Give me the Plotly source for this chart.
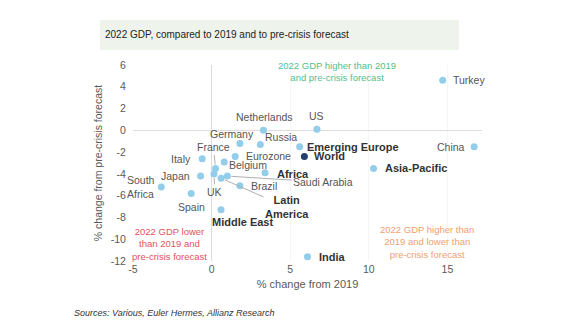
import plotly.graph_objects as go

countries = ["Turkey", "China", "US", "Netherlands", "Russia", "Germany", "Eurozone",
             "Belgium", "France", "Italy", "Japan", "South<br>Africa", "UK", "Spain",
             "Brazil", "Africa", "Saudi Arabia", "Latin<br>America", "Middle East",
             "Emerging Europe", "World", "Asia-Pacific", "India"]
vs_2019 = [14.7, 16.7, 6.7, 3.3, 3.1, 1.8, 1.5, 0.8, 0.25, -0.6, -0.7, -3.2, 0.15, -1.3,
           1.8, 3.4, 1.0, 0.6, 0.6, 5.6, 5.9, 10.3, 6.1]
vs_forecast = [4.6, -1.5, 0.1, 0.0, -1.3, -1.2, -2.4, -2.9, -3.5, -2.6, -4.2, -5.2, -4.0,
               -5.8, -5.1, -3.9, -4.2, -4.4, -7.3, -1.5, -2.4, -3.5, -11.6]
bold = ["Africa", "Latin<br>America", "Middle East", "Emerging Europe", "World",
        "Asia-Pacific", "India"]
x_ticks = [-5, 0, 5, 10, 15]
y_ticks = [6, 4, 2, 0, -2, -4, -6, -8, -10, -12]

# label placement: (xanchor, xshift, yshift) or ("arrow", ax, ay)
placement = {
    "Turkey": ("left", 8, 0), "China": ("right", -7, 0), "US": ("center", 0, 13),
    "Netherlands": ("center", 1, 13), "Russia": ("left", 3, 7),
    "Germany": ("center", -8, 9), "Eurozone": ("left", 9, 0), "Belgium": ("left", 3, -3),
    "France": ("arrow", -2, -21), "Italy": ("right", -9, 0), "Japan": ("right", -9, 0),
    "South<br>Africa": ("right", -4, 0), "UK": ("arrow", 1, 18), "Spain": ("center", 0, -14),
    "Brazil": ("left", 9, 0), "Africa": ("left", 10, -1),
    "Saudi Arabia": ("arrow", 96, 6), "Latin<br>America": ("arrow", 66, 29),
    "Middle East": ("center", 21, -12), "Emerging Europe": ("left", 5, 0),
    "World": ("left", 8, 0), "Asia-Pacific": ("left", 9, 0), "India": ("left", 9, 0),
}

colors = ["#24406e" if c == "World" else "#92cdea" for c in countries]

fig = go.Figure()
fig.add_trace(go.Scatter(x=vs_2019, y=vs_forecast, mode="markers",
                         marker=dict(size=7, color=colors), hoverinfo="text",
                         text=countries, showlegend=False, cliponaxis=False))

FONT = "Liberation Sans, Arial, sans-serif"
for name, xv, yv in zip(countries, vs_2019, vs_forecast):
    isb = name in bold
    txt = f"<b>{name}</b>" if isb else name
    fnt = dict(family=FONT, size=11 if isb else 10.5, color="#333333" if isb else "#555555")
    p = placement[name]
    if p[0] == "arrow":
        fig.add_annotation(x=xv, y=yv, text=txt, showarrow=True, arrowhead=0,
                           arrowwidth=1, arrowcolor="#b0b0b0", ax=p[1], ay=p[2],
                           standoff=4, font=fnt, align="center")
    else:
        fig.add_annotation(x=xv, y=yv, text=txt, showarrow=False, xanchor=p[0],
                           xshift=p[1], yshift=p[2], font=fnt,
                           align="left" if "South" in name else "center")

L, R, T, B = 133, 482, 65, 261
def px_to_paper(px, py):
    return (px - L) / (R - L), (B - py) / (B - T)

# quadrant notes
notes = [
    ("2022 GDP higher than 2019<br>and pre-crisis forecast", 337, 71, "#52c08a"),
    ("2022 GDP lower<br>than 2019 and<br>pre-crisis forecast", 169, 244, "#e5505e"),
    ("2022 GDP higher than<br>2019 and lower than<br>pre-crisis forecast", 427, 242, "#f2a06e"),
]
for t, px, py, c in notes:
    xp, yp = px_to_paper(px, py)
    fig.add_annotation(x=xp, y=yp, xref="paper", yref="paper", text=t, showarrow=False,
                       font=dict(family=FONT, size=9.5, color=c), align="center",
                       xanchor="center", yanchor="middle")

# title box
bx0, by0 = px_to_paper(100, 50)
bx1, by1 = px_to_paper(459, 20)
fig.add_shape(type="rect", xref="paper", yref="paper", x0=bx0, y0=by0, x1=bx1, y1=by1,
              fillcolor="#eef4ec", line=dict(width=0), layer="below")
tx, ty = px_to_paper(103, 35)
fig.add_annotation(x=tx, y=ty, xref="paper", yref="paper", showarrow=False,
                   text="2022 GDP, compared to 2019 and to pre-crisis forecast",
                   xanchor="left", yanchor="middle",
                   font=dict(family=FONT, size=10, color="#222222"))
sx, sy = px_to_paper(72, 313)
fig.add_annotation(x=sx, y=sy, xref="paper", yref="paper", showarrow=False,
                   text="<i>Sources: Various, Euler Hermes, Allianz Research</i>",
                   xanchor="left", yanchor="middle",
                   font=dict(family=FONT, size=9, color="#333333"))

axis_font = dict(family=FONT, size=10.5, color="#595959")
fig.update_layout(
    width=567, height=334, margin=dict(l=L, r=567 - R, t=T, b=334 - B),
    paper_bgcolor="white", plot_bgcolor="white",
    xaxis=dict(range=[-5, 17.2], tickvals=x_ticks, ticktext=[str(v) for v in x_ticks],
               showgrid=True, gridcolor="#f5f5f5", zeroline=True, zerolinecolor="#dcdcdc",
               zerolinewidth=1, showline=False, tickfont=axis_font,
               title=dict(text="% change from 2019", font=dict(family=FONT, size=11, color="#595959"),
                          standoff=6)),
    yaxis=dict(range=[-12, 6], tickvals=y_ticks, ticktext=[str(v) for v in y_ticks],
               showgrid=False, zeroline=True, zerolinecolor="#dcdcdc", zerolinewidth=1,
               showline=False, tickfont=axis_font, ticks="outside", ticklen=4,
               tickcolor="rgba(0,0,0,0)",
               title=dict(text="% change from pre-crisis forecast",
                          font=dict(family=FONT, size=10.5, color="#595959"), standoff=6)),
)

fig.write_html("out.html")
